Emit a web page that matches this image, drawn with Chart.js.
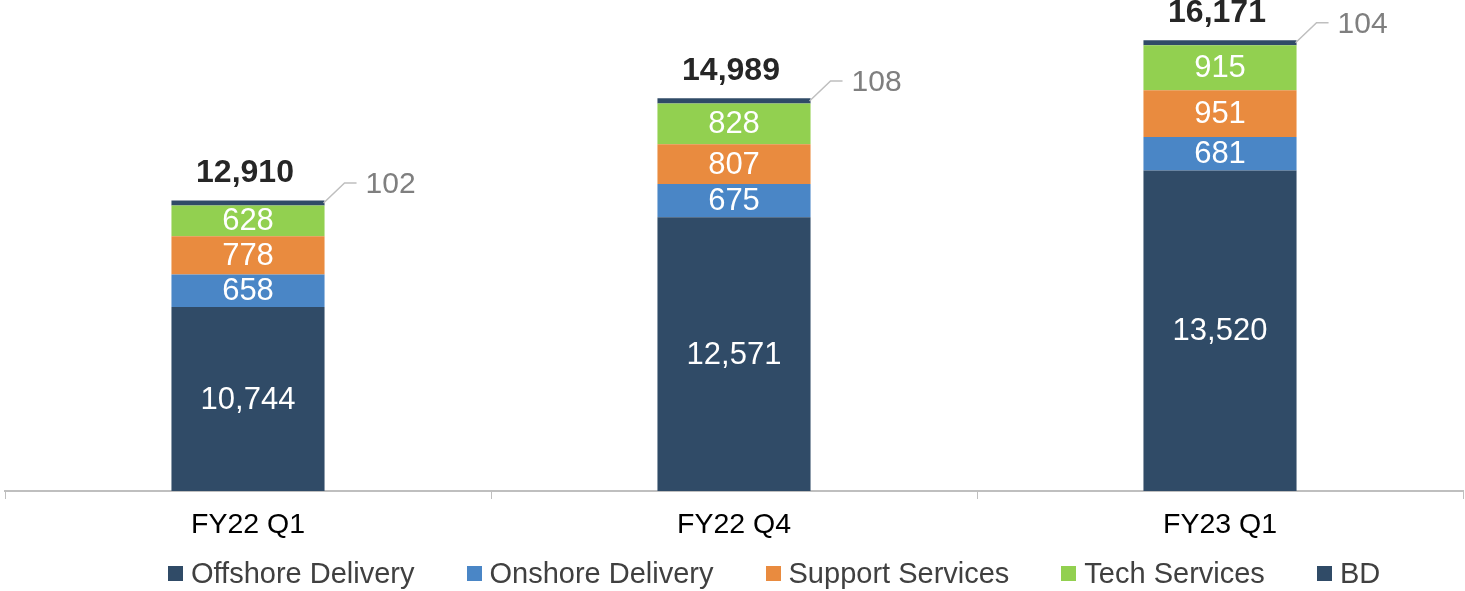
<!DOCTYPE html>
<html>
<head>
<meta charset="utf-8">
<script src="https://cdn.jsdelivr.net/npm/chart.js@4.4.1/dist/chart.umd.min.js"></script>
<style>
  html, body { margin: 0; padding: 0; background: #ffffff; }
  #wrap { position: relative; width: 1465px; height: 591px; }
  #legend { position: absolute; left: 168px; top: 556px; height: 34px; display: flex; align-items: center;
            font-family: "Liberation Sans", Arial, sans-serif; font-size: 29px; color: #404040; white-space: nowrap; }
  .item { display: flex; align-items: center; margin-right: 52px; }
  .box { width: 15px; height: 15px; margin-right: 8px; }
</style>
</head>
<body>
<div id="wrap">
  <canvas id="c" width="1465" height="591"></canvas>
  <div id="legend"></div>
</div>
<script>
const categories = ["FY22 Q1", "FY22 Q4", "FY23 Q1"];
const seriesNames = ["Offshore Delivery", "Onshore Delivery", "Support Services", "Tech Services", "BD"];
const offshoreDelivery = [10744, 12571, 13520];
const onshoreDelivery = [658, 675, 681];
const supportServices = [778, 807, 951];
const techServices = [628, 828, 915];
const bd = [102, 108, 104];
const seriesColors = ["#304B67", "#4A86C6", "#E98B3F", "#92D050", "#304B67"];
const yMin = 7000;
const yMax = 16500;

const seriesValues = [offshoreDelivery, onshoreDelivery, supportServices, techServices, bd];
const totals = categories.map((_, j) => seriesValues.reduce((s, arr) => s + arr[j], 0));
const fmt = v => v.toLocaleString('en-US');
const FONT = '"Liberation Sans", Arial, sans-serif';

const labelPlugin = {
  id: 'labels',
  afterDatasetsDraw(chart) {
    const ctx = chart.ctx;
    const area = chart.chartArea;
    ctx.save();
    for (let i = 0; i < 4; i++) {
      const meta = chart.getDatasetMeta(i);
      meta.data.forEach((bar, j) => {
        const p = bar.getProps(['x', 'y', 'base'], true);
        const bottom = Math.min(p.base, area.bottom);
        const cy = (p.y + bottom) / 2;
        ctx.font = '31px ' + FONT;
        ctx.fillStyle = '#FFFFFF';
        ctx.textAlign = 'center';
        ctx.textBaseline = 'middle';
        ctx.fillText(fmt(seriesValues[i][j]), p.x, cy + 1);
      });
    }
    const metaTop = chart.getDatasetMeta(4);
    metaTop.data.forEach((bar, j) => {
      const p = bar.getProps(['x', 'y', 'base', 'width'], true);
      const right = p.x + p.width / 2;
      const sy = (p.y + p.base) / 2;
      const ey = sy - 20;
      ctx.strokeStyle = '#BFBFBF';
      ctx.lineWidth = 1.5;
      ctx.beginPath();
      ctx.moveTo(right - 1, sy);
      ctx.lineTo(right + 20, ey);
      ctx.lineTo(right + 32, ey);
      ctx.stroke();
      ctx.font = '30px ' + FONT;
      ctx.fillStyle = '#7F7F7F';
      ctx.textAlign = 'left';
      ctx.textBaseline = 'middle';
      ctx.fillText(fmt(bd[j]), right + 41, ey + 2);

      ctx.font = 'bold 32px ' + FONT;
      ctx.fillStyle = '#262626';
      ctx.textAlign = 'center';
      ctx.fillText(fmt(totals[j]), p.x - 3, p.y - 27);
    });
    ctx.restore();
  }
};

new Chart(document.getElementById('c'), {
  type: 'bar',
  data: {
    labels: categories,
    datasets: seriesNames.map((name, i) => ({
      label: name,
      data: seriesValues[i],
      backgroundColor: seriesColors[i],
      borderWidth: 0,
      categoryPercentage: 1,
      barPercentage: 0.315
    }))
  },
  options: {
    responsive: false,
    animation: false,
    layout: { padding: { left: 5, right: 2, top: 24, bottom: 0 } },
    plugins: { legend: { display: false }, tooltip: { enabled: false } },
    scales: {
      x: {
        stacked: true,
        afterFit(scale) { scale.height = 100; },
        grid: { display: true, drawOnChartArea: false, offset: true, tickLength: 8, color: '#BFBFBF', lineWidth: 1 },
        border: { display: true, color: '#BFBFBF', width: 2 },
        ticks: { color: '#000000', padding: 9, font: { family: FONT, size: 28.5, lineHeight: 1.2 } }
      },
      y: {
        stacked: true,
        display: false,
        min: yMin,
        max: yMax
      }
    }
  },
  plugins: [labelPlugin]
});

const legend = document.getElementById('legend');
seriesNames.forEach((name, i) => {
  const item = document.createElement('div');
  item.className = 'item';
  const box = document.createElement('span');
  box.className = 'box';
  box.style.background = seriesColors[i];
  const txt = document.createElement('span');
  txt.textContent = name;
  item.appendChild(box);
  item.appendChild(txt);
  legend.appendChild(item);
});
</script>
</body>
</html>
